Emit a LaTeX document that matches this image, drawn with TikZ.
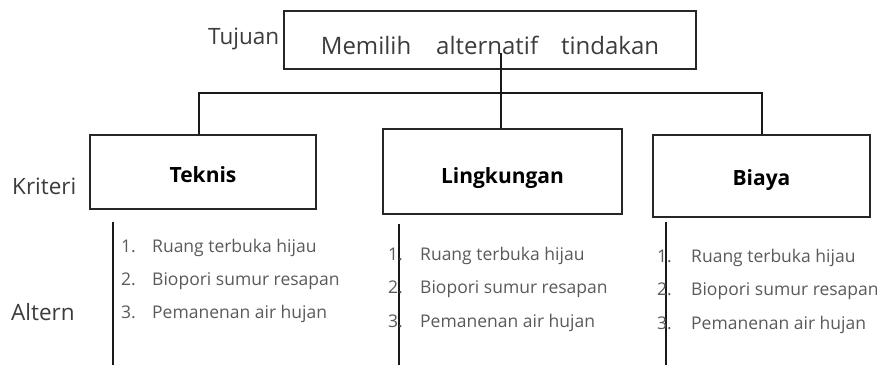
\documentclass[tikz,border=0pt]{standalone}
\usepackage{fontspec}
\setmainfont{Open Sans}
\definecolor{labgray}{HTML}{3C3C3C}
\definecolor{listgray}{HTML}{5A5A5A}
\begin{document}
\begin{tikzpicture}[x=1pt,y=-1pt,
  box/.style={draw=black!85, line width=1.4pt, inner sep=0pt, text=black},
  conn/.style={draw=black!90, line width=1.3pt},
  sidelab/.style={anchor=base west, inner sep=0pt, text=labgray, font=\fontsize{22.5}{26}\selectfont},
  crit/.style={font=\fontsize{21}{24}\selectfont\bfseries},
  num/.style={anchor=base west, inner sep=0pt, text=listgray, font=\fontsize{17.5}{20}\selectfont},
  item/.style={anchor=base west, inner sep=0pt, text=listgray, font=\fontsize{17.5}{20}\selectfont}
]
\useasboundingbox (0,0) rectangle (877,365);

% goal box
\node[box, minimum width=412pt, minimum height=58pt, text height=28pt, text depth=0pt,
      text=labgray, font=\fontsize{24}{27}\selectfont] (goal) at (490,40)
  {Memilih\hspace{25pt}alternatif\hspace{23pt}tindakan};

% criteria boxes
\node[box, crit, minimum width=226pt, minimum height=74pt, text height=20pt, text depth=0pt] (tek) at (203,172) {Teknis};
\node[box, crit, minimum width=239pt, minimum height=85pt, text height=23pt, text depth=0pt] (ling) at (502.5,171.5) {Lingkungan};
\node[box, crit, minimum width=217pt, minimum height=82pt, text height=18pt, text depth=0pt] (bia) at (761.5,176) {Biaya};

% side labels
\node[sidelab] (tuj) at (208,44) {Tujuan};
\node[sidelab] (kri) at (12,194) {Kriteri};
\node[sidelab] (alt) at (11,320) {Altern};

% connectors
\coordinate (gs) at (501,53);
\coordinate (hl) at (199,93);
\coordinate (hr) at (762,93);
\draw[conn] (gs) -- (gs |- ling.north);
\draw[conn] (hl |- tek.north) -- (hl) -- (hr) -- (hr |- bia.north);

% list lines
\coordinate (t1) at (113,222); \coordinate (t2) at (113,365);
\coordinate (l1) at (399,224); \coordinate (l2) at (399,365);
\coordinate (b1) at (666,222); \coordinate (b2) at (666,365);
\draw[conn] (t1) -- (t2);
\draw[conn] (l1) -- (l2);
\draw[conn] (b1) -- (b2);

% Teknis list
\node[num] (tn1) at (121,252) {1.};
\node[num] (tn2) at (121,285) {2.};
\node[num] (tn3) at (121,318) {3.};
\node[item] (ti1) at (152,252) {Ruang terbuka hijau};
\node[item] (ti2) at (152,285) {Biopori sumur resapan};
\node[item] (ti3) at (152,318) {Pemanenan air hujan};

% Lingkungan list
\node[num] (ln1) at (388,260) {1.};
\node[num] (ln2) at (388,293) {2.};
\node[num] (ln3) at (388,327) {3.};
\node[item] (li1) at (420,260) {Ruang terbuka hijau};
\node[item] (li2) at (420,293) {Biopori sumur resapan};
\node[item] (li3) at (420,327) {Pemanenan air hujan};

% Biaya list
\node[num] (bn1) at (657,262) {1.};
\node[num] (bn2) at (657,295) {2.};
\node[num] (bn3) at (657,329) {3.};
\node[item] (bi1) at (691,262) {Ruang terbuka hijau};
\node[item] (bi2) at (691,295) {Biopori sumur resapan};
\node[item] (bi3) at (691,329) {Pemanenan air hujan};
\end{tikzpicture}
\end{document}
